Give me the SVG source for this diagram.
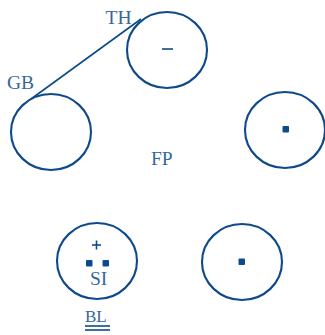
<svg xmlns="http://www.w3.org/2000/svg" width="325" height="335" viewBox="0 0 325 335">
<style>
.c{fill:none;stroke:#0e4a8a;stroke-width:2.1}
.t{font-family:"Liberation Serif",serif;font-size:19.5px;fill:#3468a0}
.d{fill:#0e4a8a}
.l{stroke:#0e4a8a;stroke-width:1.6}
</style>
<rect width="325" height="335" fill="#ffffff"/>
<g id="connectors">
<line class="l" x1="31" y1="99" x2="141" y2="19"/>
</g>
<g id="TH">
<ellipse class="c" cx="167" cy="50" rx="40" ry="38"/>
<line class="l" x1="162" y1="49" x2="173" y2="49" stroke-width="2"/>
<text class="t" x="105.5" y="24">TH</text>
</g>
<g id="GB">
<ellipse class="c" cx="51" cy="132" rx="40" ry="38"/>
<text class="t" x="7" y="89">GB</text>
</g>
<g id="FP">
<text class="t" x="151" y="165">FP</text>
</g>
<g id="right">
<ellipse class="c" cx="285" cy="130" rx="40" ry="38"/>
<rect class="d" x="282.5" y="126" width="6.5" height="6.5" rx="1"/>
</g>
<g id="bottomright">
<ellipse class="c" cx="242" cy="262" rx="40" ry="38"/>
<rect class="d" x="238.5" y="258.5" width="6.5" height="6.5" rx="1"/>
</g>
<g id="SI">
<ellipse class="c" cx="97" cy="261" rx="40" ry="38"/>
<line class="l" x1="92" y1="245" x2="101" y2="245" stroke-width="2.2"/>
<line class="l" x1="96.5" y1="240.5" x2="96.5" y2="249.5" stroke-width="2.2"/>
<rect class="d" x="86" y="260" width="6.5" height="6.5" rx="1"/>
<rect class="d" x="102.5" y="260" width="6.5" height="6.5" rx="1"/>
<text class="t" x="90" y="285">SI</text>
</g>
<g id="BL">
<text class="t" x="85" y="322" style="font-size:17px">BL</text>
<line class="l" x1="85" y1="326" x2="110" y2="326" stroke-width="1.4"/>
<line class="l" x1="85" y1="330" x2="110" y2="330" stroke-width="1.4"/>
</g>
</svg>
